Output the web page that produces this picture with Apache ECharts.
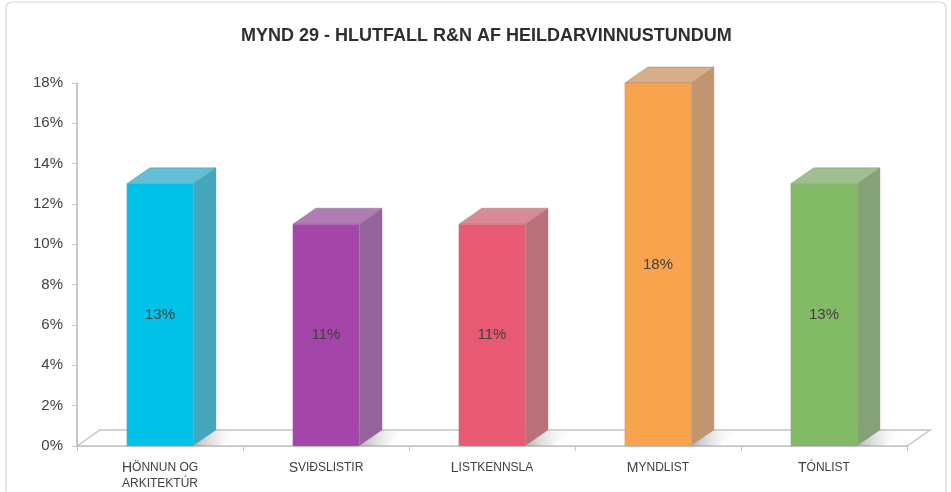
<!DOCTYPE html>
<html>
<head>
<meta charset="utf-8">
<script src="https://cdn.jsdelivr.net/npm/echarts@6/dist/echarts.min.js"></script>
<style>
  html, body { margin: 0; padding: 0; background: #fff; }
  #chart { width: 951px; height: 492px; }
</style>
</head>
<body>
<div id="chart"></div>
<script>
// gögn
var categories = ['Hönnun og\narkitektúr', 'Sviðslistir', 'Listkennsla', 'Myndlist', 'Tónlist'];
var values = [13, 11, 11, 18, 13];
var yTicks = [0, 2, 4, 6, 8, 10, 12, 14, 16, 18];

// litir: framhlið, toppur, hlið
var frontColors = ['#00c2e8', '#a445a9', '#e85a73', '#f9a34f', '#83ba65'];
var topColors = ['#62bfd5', '#b17cb4', '#d88b96', '#d9ae89', '#a0bf90'];
var sideColors = ['#46a6be', '#94649b', '#b87079', '#c29571', '#85a178'];

var DX = 23, DY = 16;   // dýpt 3D
var FONT = '"Liberation Sans", Arial, sans-serif';

var chart = echarts.init(document.getElementById('chart'));

// litlir hástafir (small caps) fyrir flokkaheiti
function smallCaps(name) {
    return name.split('\n').map(function (line) {
        var out = '', run = '', runBig = null;
        for (var i = 0; i < line.length; i++) {
            var c = line[i];
            var big = c !== c.toLowerCase();
            if (runBig !== null && big !== runBig) {
                out += '{' + (runBig ? 'big' : 'sm') + '|' + run + '}';
                run = '';
            }
            runBig = big;
            run += c.toUpperCase();
        }
        if (run) out += '{' + (runBig ? 'big' : 'sm') + '|' + run + '}';
        return out;
    }).join('\n');
}

function renderFloor(params, api) {
    var cs = params.coordSys;
    var y0 = cs.y + cs.height;
    var xL = cs.x, xR = cs.x + cs.width;
    return {
        type: 'polygon',
        shape: { points: [[xL, y0], [xL + DX, y0 - DY], [xR + DX, y0 - DY], [xR, y0]] },
        style: { fill: '#fff', stroke: '#c4c4c4', lineWidth: 1.5 }
    };
}

function renderBar(params, api) {
    var idx = api.value(0);
    var val = api.value(1);
    var top = api.coord([idx, val]);
    var base = api.coord([idx, 0]);
    var band = api.size([1, 0])[0];
    var w = band * 0.4;
    var x0 = top[0] - w / 2, x1 = top[0] + w / 2;
    var yt = top[1], yb = base[1];
    var i = params.dataIndex;
    return {
        type: 'group',
        children: [
            {
                type: 'polygon',
                shape: { points: [[x1, yb], [x1 + DX, yb - DY], [x1 + DX + 26, yb - DY], [x1 + 26, yb]] },
                style: {
                    fill: new echarts.graphic.LinearGradient(0, 0, 1, 0, [
                        { offset: 0, color: 'rgba(120,120,120,0.55)' },
                        { offset: 1, color: 'rgba(255,255,255,0)' }
                    ])
                }
            },
            {
                type: 'polygon',
                shape: { points: [[x1, yt], [x1 + DX, yt - DY], [x1 + DX, yb - DY], [x1, yb]] },
                style: { fill: sideColors[i] }
            },
            {
                type: 'polygon',
                shape: { points: [[x0, yt], [x0 + DX, yt - DY], [x1 + DX, yt - DY], [x1, yt]] },
                style: { fill: topColors[i], stroke: 'rgba(90,90,90,0.5)', lineWidth: 0.6 }
            },
            {
                type: 'rect',
                shape: { x: x0, y: yt, width: w, height: yb - yt },
                style: { fill: frontColors[i], stroke: 'rgba(150,150,150,0.4)', lineWidth: 0.6 }
            },
            {
                type: 'text',
                style: {
                    text: val + '%',
                    x: top[0], y: (yt + yb) / 2,
                    align: 'center', verticalAlign: 'middle',
                    fill: '#404040',
                    font: '15px ' + FONT
                }
            }
        ]
    };
}

chart.setOption({
    animation: false,
    graphic: [{
        type: 'rect',
        shape: { x: 6, y: 2, width: 940, height: 500, r: 6 },
        style: { fill: 'none', stroke: '#d6d6d6', lineWidth: 1.2 },
        z: -10
    }],
    title: {
        text: 'MYND 29 - HLUTFALL R&N AF HEILDARVINNUSTUNDUM',
        left: 236,
        top: 22,
        textStyle: {
            fontFamily: FONT,
            fontWeight: 'bold',
            fontSize: 18,
            color: '#2e2e2e'
        }
    },
    grid: { left: 77, right: 44, top: 83, bottom: 46 },
    xAxis: {
        type: 'category',
        data: categories,
        axisLine: { show: true, lineStyle: { color: '#c4c4c4', width: 1.5 } },
        axisTick: { show: true, length: 5, lineStyle: { color: '#c4c4c4' } },
        axisLabel: {
            interval: 0,
            margin: 14,
            lineHeight: 16,
            formatter: function (v) { return smallCaps(v); },
            rich: {
                big: { fontSize: 14, color: '#404040', fontFamily: FONT, lineHeight: 16 },
                sm: { fontSize: 12, color: '#404040', fontFamily: FONT, lineHeight: 16 }
            }
        }
    },
    yAxis: {
        type: 'value',
        min: 0,
        max: 18,
        interval: 2,
        axisLine: { show: true, lineStyle: { color: '#c8c8c8', width: 2 } },
        axisTick: { show: true, length: 5, lineStyle: { color: '#c8c8c8' } },
        splitLine: { show: false },
        axisLabel: {
            margin: 14,
            formatter: '{value}%',
            color: '#404040',
            fontSize: 15,
            fontFamily: FONT
        }
    },
    series: [
        {
            type: 'custom',
            renderItem: renderFloor,
            data: [[0, 0]],
            z: 1,
            silent: true
        },
        {
            type: 'custom',
            renderItem: renderBar,
            data: values.map(function (v, i) { return [i, v]; }),
            z: 2
        }
    ]
});
</script>
</body>
</html>
